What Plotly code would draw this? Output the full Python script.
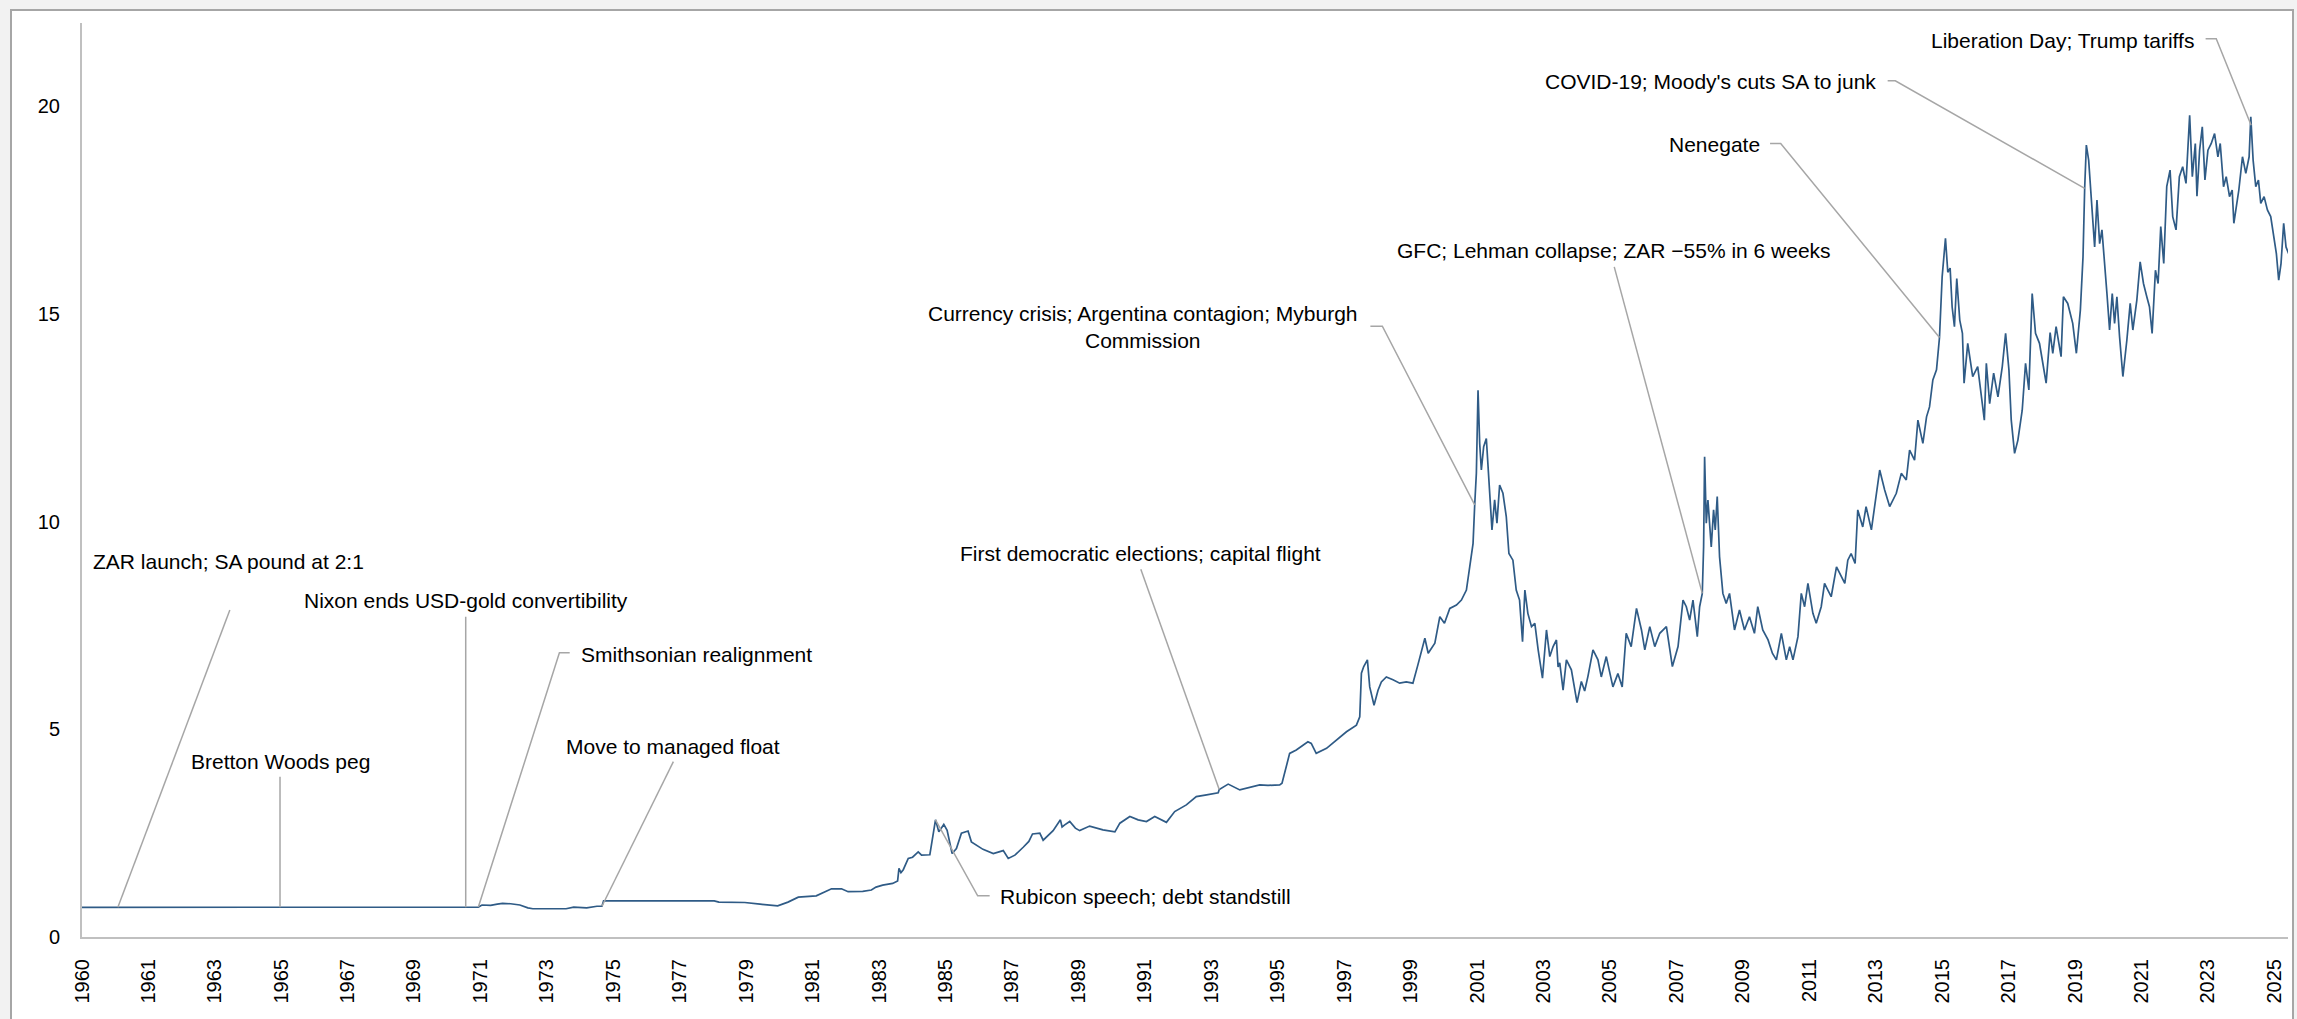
import plotly.graph_objects as go

# ---------------- data ----------------
# time in decimal years, value = ZAR per USD
years = [
    1960.00, 1961.08, 1965.96, 1970.50, 1970.80, 1971.55, 1971.93, 1972.04, 1972.30, 1972.50,
    1972.66, 1972.90, 1973.03, 1973.18, 1973.42, 1973.57, 1974.00, 1974.57, 1974.80, 1975.19,
    1975.50, 1975.65, 1975.70, 1976.57, 1978.00, 1979.03, 1979.17, 1979.95, 1980.41, 1980.94,
    1981.25, 1981.56, 1982.10, 1982.56, 1982.86, 1983.06, 1983.50, 1983.76, 1983.90, 1984.10,
    1984.40, 1984.55, 1984.59, 1984.65, 1984.72, 1984.87, 1985.00, 1985.17, 1985.27, 1985.52,
    1985.69, 1985.79, 1985.94, 1986.04, 1986.19, 1986.32, 1986.47, 1986.67, 1986.77, 1986.90,
    1987.12, 1987.43, 1987.60, 1987.73, 1987.88, 1988.08, 1988.33, 1988.50, 1988.61, 1988.83,
    1988.93, 1989.23, 1989.45, 1989.50, 1989.58, 1989.73, 1989.90, 1990.03, 1990.33, 1990.73,
    1991.09, 1991.24, 1991.54, 1991.79, 1992.04, 1992.29, 1992.64, 1992.89, 1993.24, 1993.54,
    1993.85, 1994.20, 1994.23, 1994.50, 1994.85, 1995.25, 1995.45, 1995.70, 1996.05, 1996.12,
    1996.20, 1996.35, 1996.55, 1996.70, 1996.90, 1997.00, 1997.15, 1997.46, 1997.76, 1998.06,
    1998.36, 1998.46, 1998.51, 1998.58, 1998.69, 1998.76, 1998.89, 1999.01, 1999.11, 1999.26,
    1999.46, 1999.66, 1999.86, 2000.06, 2000.21, 2000.42, 2000.52, 2000.72, 2000.87, 2001.01,
    2001.17, 2001.37, 2001.52, 2001.67, 2001.77, 2001.87, 2001.92, 2001.97, 2002.02, 2002.07,
    2002.12, 2002.19, 2002.27, 2002.35, 2002.44, 2002.52, 2002.59, 2002.67, 2002.77, 2002.87,
    2002.95, 2003.07, 2003.17, 2003.27, 2003.36, 2003.43, 2003.52, 2003.63, 2003.73, 2003.83,
    2003.96, 2004.08, 2004.18, 2004.28, 2004.38, 2004.43, 2004.48, 2004.58, 2004.68, 2004.83,
    2004.88, 2005.00, 2005.13, 2005.23, 2005.33, 2005.48, 2005.63, 2005.73, 2005.88, 2006.08,
    2006.23, 2006.36, 2006.48, 2006.63, 2006.79, 2006.94, 2007.04, 2007.19, 2007.34, 2007.49,
    2007.69, 2007.87, 2008.04, 2008.19, 2008.29, 2008.39, 2008.49, 2008.62, 2008.69, 2008.77,
    2008.81, 2008.84, 2008.89, 2008.94, 2009.04, 2009.11, 2009.16, 2009.22, 2009.29, 2009.39,
    2009.49, 2009.59, 2009.74, 2009.89, 2010.04, 2010.19, 2010.34, 2010.44, 2010.59, 2010.75,
    2010.88, 2011.00, 2011.15, 2011.30, 2011.40, 2011.50, 2011.65, 2011.75, 2011.85, 2011.95,
    2012.10, 2012.20, 2012.35, 2012.45, 2012.55, 2012.65, 2012.81, 2012.96, 2013.06, 2013.15,
    2013.25, 2013.37, 2013.45, 2013.60, 2013.70, 2013.86, 2013.96, 2014.11, 2014.26, 2014.41,
    2014.61, 2014.76, 2014.91, 2015.01, 2015.16, 2015.26, 2015.41, 2015.52, 2015.61, 2015.71,
    2015.82, 2015.91, 2015.99, 2016.09, 2016.16, 2016.23, 2016.29, 2016.36, 2016.43, 2016.52,
    2016.60, 2016.65, 2016.76, 2016.91, 2017.06, 2017.17, 2017.26, 2017.32, 2017.42, 2017.54,
    2017.67, 2017.80, 2017.90, 2018.00, 2018.07, 2018.17, 2018.27, 2018.40, 2018.50, 2018.60,
    2018.70, 2018.80, 2018.92, 2019.02, 2019.12, 2019.24, 2019.32, 2019.42, 2019.57, 2019.64,
    2019.77, 2019.92, 2020.03, 2020.15, 2020.23, 2020.28, 2020.33, 2020.40, 2020.45, 2020.50,
    2020.58, 2020.65, 2020.73, 2020.80, 2020.88, 2020.95, 2021.03, 2021.11, 2021.18, 2021.25,
    2021.33, 2021.43, 2021.55, 2021.65, 2021.73, 2021.85, 2021.95, 2022.05, 2022.15, 2022.23,
    2022.31, 2022.41, 2022.49, 2022.57, 2022.66, 2022.75, 2022.85, 2022.93, 2023.03, 2023.13,
    2023.23, 2023.33, 2023.44, 2023.52, 2023.61, 2023.66, 2023.74, 2023.82, 2023.90, 2023.99,
    2024.09, 2024.19, 2024.29, 2024.36, 2024.46, 2024.54, 2024.64, 2024.72, 2024.77, 2024.85,
    2024.92, 2025.03, 2025.13, 2025.23, 2025.28, 2025.35, 2025.43, 2025.51, 2025.58, 2025.68,
    2025.78, 2025.88, 2025.95, 2026.05, 2026.12, 2026.19, 2026.27, 2026.34, 2026.42,
]
usd_zar = [
    0.714, 0.714, 0.714, 0.714, 0.71, 0.714, 0.72, 0.77, 0.76, 0.79,
    0.81, 0.80, 0.79, 0.77, 0.70, 0.68, 0.68, 0.68, 0.72, 0.70,
    0.74, 0.74, 0.87, 0.87, 0.87, 0.87, 0.84, 0.83, 0.79, 0.75,
    0.84, 0.96, 0.99, 1.16, 1.16, 1.09, 1.10, 1.13, 1.20, 1.25,
    1.29, 1.35, 1.65, 1.55, 1.62, 1.89, 1.92, 2.05, 1.97, 1.98,
    2.82, 2.53, 2.71, 2.57, 2.01, 2.13, 2.50, 2.55, 2.29, 2.22,
    2.11, 2.01, 2.05, 2.08, 1.89, 1.97, 2.16, 2.30, 2.48, 2.50,
    2.33, 2.56, 2.82, 2.65, 2.70, 2.78, 2.62, 2.56, 2.67, 2.58,
    2.53, 2.74, 2.90, 2.82, 2.78, 2.90, 2.76, 3.02, 3.18, 3.38,
    3.42, 3.47, 3.55, 3.68, 3.54, 3.62, 3.66, 3.65, 3.66, 3.70,
    3.94, 4.42, 4.50, 4.58, 4.70, 4.66, 4.42, 4.54, 4.74, 4.94,
    5.10, 5.30, 6.35, 6.51, 6.67, 6.02, 5.58, 5.94, 6.14, 6.26,
    6.19, 6.11, 6.14, 6.11, 6.55, 7.19, 6.83, 7.07, 7.71, 7.55,
    7.91, 7.99, 8.11, 8.35, 8.91, 9.47, 10.40, 11.16, 13.16, 11.88,
    11.24, 11.80, 12.00, 10.92, 9.80, 10.52, 9.96, 10.88, 10.68, 10.12,
    9.23, 9.07, 8.35, 8.11, 7.11, 8.35, 7.79, 7.47, 7.55, 6.91,
    6.23, 7.39, 6.75, 6.99, 7.15, 6.50, 6.60, 5.94, 6.67, 6.43,
    6.19, 5.64, 6.15, 5.92, 6.28, 6.91, 6.67, 6.26, 6.75, 6.02,
    6.34, 6.02, 7.31, 6.99, 7.91, 7.39, 6.91, 7.47, 6.99, 7.31,
    7.47, 6.51, 6.99, 8.11, 7.95, 7.63, 8.11, 7.23, 7.95, 8.27,
    9.39, 11.56, 9.96, 10.52, 9.39, 10.28, 9.80, 10.60, 9.15, 8.27,
    8.03, 8.27, 7.39, 7.87, 7.39, 7.71, 7.31, 7.95, 7.39, 7.15,
    6.83, 6.67, 7.31, 6.67, 6.99, 6.67, 7.23, 8.27, 7.95, 8.51,
    7.79, 7.55, 7.95, 8.51, 8.35, 8.19, 8.91, 8.67, 8.51, 9.07,
    9.23, 8.99, 10.28, 9.87, 10.36, 9.80, 10.36, 11.24, 10.76, 10.36,
    10.68, 11.16, 11.00, 11.72, 11.48, 12.44, 11.88, 12.52, 12.76, 13.41,
    13.65, 14.43, 15.89, 16.82, 16.00, 16.10, 15.17, 14.69, 15.85, 14.85,
    14.53, 13.33, 14.29, 13.49, 13.73, 13.00, 12.44, 13.81, 12.84, 13.57,
    13.00, 13.73, 14.53, 13.65, 12.44, 11.64, 11.96, 12.68, 13.81, 13.17,
    15.49, 14.53, 14.29, 13.81, 13.33, 14.55, 14.05, 14.69, 13.97, 15.41,
    15.25, 14.77, 14.05, 15.09, 16.37, 18.02, 19.06, 18.70, 18.17, 17.42,
    16.61, 17.74, 16.69, 17.02, 16.29, 15.49, 14.61, 15.49, 14.77, 15.41,
    14.45, 13.49, 14.37, 15.25, 14.61, 15.33, 16.25, 15.73, 15.41, 15.17,
    14.53, 16.05, 15.73, 17.10, 16.21, 18.06, 18.46, 17.34, 17.02, 18.30,
    18.54, 18.14, 19.78, 18.30, 19.10, 17.83, 18.94, 19.50, 18.22, 18.94,
    19.10, 19.34, 18.78, 19.10, 18.06, 18.30, 17.82, 17.98, 17.18, 17.66,
    17.98, 18.78, 18.38, 18.78, 19.74, 18.70, 18.06, 18.22, 17.66, 17.82,
    17.50, 17.34, 16.94, 16.45, 15.81, 16.21, 17.18, 16.61, 16.45,
]

tick_years = [1960] + list(range(1961, 2026, 2))
y_ticks = [0, 5, 10, 15, 20]

event_labels = [
    "ZAR launch; SA pound at 2:1",
    "Bretton Woods peg",
    "Nixon ends USD-gold convertibility",
    "Smithsonian realignment",
    "Move to managed float",
    "Rubicon speech; debt standstill",
    "First democratic elections; capital flight",
    "Currency crisis; Argentina contagion; Myburgh<br>Commission",
    "GFC; Lehman collapse; ZAR \u221255% in 6 weeks",
    "Nenegate",
    "COVID-19; Moody's cuts SA to junk",
    "Liberation Day; Trump tariffs",
]
# event point on the series (year, value)
event_year = [1961.08, 1965.96, 1971.55, 1971.93, 1975.65, 1985.69, 1994.23, 2001.92, 2008.77, 2015.91, 2020.28, 2025.29]
event_value = [0.714, 0.714, 0.714, 0.72, 0.74, 2.82, 3.55, 10.40, 8.27, 14.43, 18.02, 19.54]

# ---------------- label placement (layout) ----------------
# (text x, text y, anchor, leader-line vertices before the event point)
placement = [
    (1960.27, 9.03, "left", [(1964.45, 7.87)]),
    (1965.96, 4.22, "center", [(1965.96, 3.86)]),
    (1971.55, 8.09, "center", [(1971.55, 7.71)]),
    (1974.96, 6.81, "left", [(1974.68, 6.84), (1974.37, 6.84)]),
    (1977.80, 4.58, "center", [(1977.80, 4.22)]),
    (1987.57, 0.97, "left", [(1987.32, 0.99), (1986.96, 0.99)]),
    (1991.87, 9.22, "center", [(1991.87, 8.85)]),
    (1998.48, 14.68, "right", [(1998.78, 14.70), (1999.14, 14.70)]),
    (2006.10, 16.52, "center", [(2006.12, 16.13)]),
    (2010.56, 19.08, "right", [(2010.81, 19.10), (2011.13, 19.10)]),
    (2014.06, 20.59, "right", [(2014.35, 20.61), (2014.58, 20.61)]),
    (2023.63, 21.59, "right", [(2023.92, 21.62), (2024.24, 21.62)]),
]

FONT = "Arial, 'Liberation Sans', sans-serif"
LINE_COLOR = "#2f5b86"
LEADER_COLOR = "#a6a6a6"
PAGE_BG = "#f2f2f2"

fig = go.Figure()

fig.add_trace(go.Scatter(
    x=years, y=usd_zar, mode="lines",
    line=dict(color=LINE_COLOR, width=1.7),
    hoverinfo="skip", showlegend=False,
))

annotations = []
for label, ex, ev, (tx, ty, anchor, verts) in zip(event_labels, event_year, event_value, placement):
    xs = [p[0] for p in verts] + [ex]
    ys = [p[1] for p in verts] + [ev]
    fig.add_trace(go.Scatter(
        x=xs, y=ys, mode="lines",
        line=dict(color=LEADER_COLOR, width=1.5),
        hoverinfo="skip", showlegend=False,
    ))
    annotations.append(dict(
        x=tx, y=ty, xref="x", yref="y", text=label, showarrow=False,
        xanchor=anchor, yanchor="middle", align="center",
        font=dict(family=FONT, size=21, color="#000000"),
    ))

L, R, T, B = 82, 9, 23, 82
W, H = 2297, 1019
pw, ph = W - L - R, H - T - B

fig.update_layout(
    width=W, height=H, autosize=False,
    template="none",
    margin=dict(l=L, r=R, t=T, b=B, pad=0),
    paper_bgcolor=PAGE_BG,
    plot_bgcolor="white",
    showlegend=False,
    hovermode=False,
    annotations=annotations,
    shapes=[dict(
        type="rect", xref="paper", yref="paper", layer="below",
        x0=(11 - L) / pw, x1=(2293 - L) / pw,
        y0=-0.3, y1=(H - B - 10) / ph,
        fillcolor="white", line=dict(color="#a6a6a6", width=2),
    )],
    xaxis=dict(
        range=[1960, 2026.40], showgrid=False, zeroline=False,
        showline=True, linecolor="#c0c0c0", linewidth=2,
        tickmode="array",
        tickvals=[1960.0] + [y + 0.99 for y in tick_years[1:]],
        ticktext=[str(y) for y in tick_years],
        tickangle=-90, ticks="", ticklabelstandoff=12,
        tickfont=dict(family=FONT, size=20, color="#000000"),
        automargin=False,
    ),
    yaxis=dict(
        range=[0, 22], showgrid=False, zeroline=False,
        showline=True, linecolor="#c0c0c0", linewidth=2,
        tickmode="array", tickvals=y_ticks, ticktext=[str(v) for v in y_ticks],
        ticks="", ticklabelstandoff=16,
        tickfont=dict(family=FONT, size=20, color="#000000"),
        automargin=False,
    ),
)

fig.write_html(
    "out.html",
    config={"displayModeBar": False, "staticPlot": True},
    post_script="document.body.style.margin='0';document.body.style.background='" + PAGE_BG + "';"
                "document.documentElement.style.overflow='hidden';",
)
